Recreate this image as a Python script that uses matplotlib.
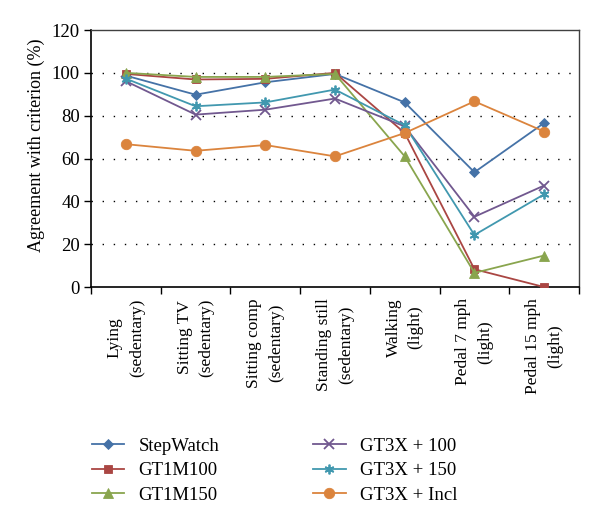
import matplotlib
matplotlib.use("Agg")
import matplotlib.pyplot as plt
from matplotlib.ticker import FixedLocator, NullFormatter

plt.rcParams['font.family'] = ['Liberation Serif', 'DejaVu Serif']

categories = ["Lying\n(sedentary)", "Sitting TV\n(sedentary)", "Sitting comp\n(sedentary)",
              "Standing still\n(sedentary)", "Walking\n(light)", "Pedal 7 mph\n(light)",
              "Pedal 15 mph\n(light)"]

stepwatch = [98.7, 89.8, 95.6, 99.5, 86.2, 53.6, 76.6]
gt1m100 = [99.5, 96.9, 97.2, 100.0, 71.9, 8.3, 0.0]
gt1m150 = [100.0, 98.1, 98.1, 99.5, 61.0, 6.6, 14.7]
gt3x100 = [96.1, 80.5, 82.8, 88.0, 75.0, 32.8, 47.4]
gt3x150 = [97.3, 84.4, 86.2, 92.2, 75.5, 24.3, 43.3]
gt3xincl = [66.7, 63.6, 66.3, 61.0, 71.9, 86.7, 72.6]

series = [
    ("StepWatch", stepwatch, "#4572A7", "D", 5.5),
    ("GT1M100", gt1m100, "#AA4643", "s", 6),
    ("GT1M150", gt1m150, "#89A54E", "^", 6.5),
    ("GT3X + 100", gt3x100, "#71588F", "x", 6.5),
    ("GT3X + 150", gt3x150, "#4198AF", (6, 2, 0), 7),
    ("GT3X + Incl", gt3xincl, "#DB843D", "o", 7.5),
]

fig = plt.figure(figsize=(6.0, 5.23), dpi=100)
ax = fig.add_axes([0.1517, 0.4512, 0.8133, 0.4914])

x = list(range(len(categories)))
for name, vals, col, mk, ms in series:
    ax.plot(x, vals, color=col, marker=mk, markersize=ms, linewidth=1.3,
            markeredgewidth=1.3 if (mk == "x" or isinstance(mk, tuple)) else 0.6,
            markeredgecolor=col, markerfacecolor=col, label=name, zorder=3)

ax.set_xlim(-0.5, len(categories) - 0.5)
ax.set_ylim(0, 120)
ax.set_yticks(range(0, 121, 20))
for yv in range(20, 101, 20):
    ax.axhline(yv, color="black", linestyle=(0, (1, 7)), linewidth=1.0, zorder=1)

ax.set_xticks(x)
ax.set_xticklabels(categories, rotation=90, ha="center", va="top",
                   multialignment="center", fontsize=12.5, linespacing=1.5)
ax.tick_params(axis="x", which="major", length=0, pad=8)
ax.xaxis.set_minor_locator(FixedLocator([i - 0.5 for i in range(len(categories) + 1)]))
ax.xaxis.set_minor_formatter(NullFormatter())
ax.tick_params(axis="x", which="minor", length=5, width=1, direction="out")
ax.tick_params(axis="y", length=5, width=1, direction="out", labelsize=13.5, pad=3)

for side in ["left", "bottom"]:
    ax.spines[side].set_color("black")
    ax.spines[side].set_linewidth(1.2)
for side in ["top", "right"]:
    ax.spines[side].set_color("#404040")
    ax.spines[side].set_linewidth(1.0)

ax.set_ylabel("Agreement with criterion (%)", fontsize=13)
ax.yaxis.set_label_coords(-0.095, 0.55)

fig.legend(loc="upper left", bbox_to_anchor=(0.14, 0.178), ncol=2, frameon=False,
           fontsize=13.5, handlelength=1.75, handletextpad=0.75, columnspacing=5.0,
           labelspacing=0.4, borderaxespad=0)

fig.savefig("out.png", dpi=100)
